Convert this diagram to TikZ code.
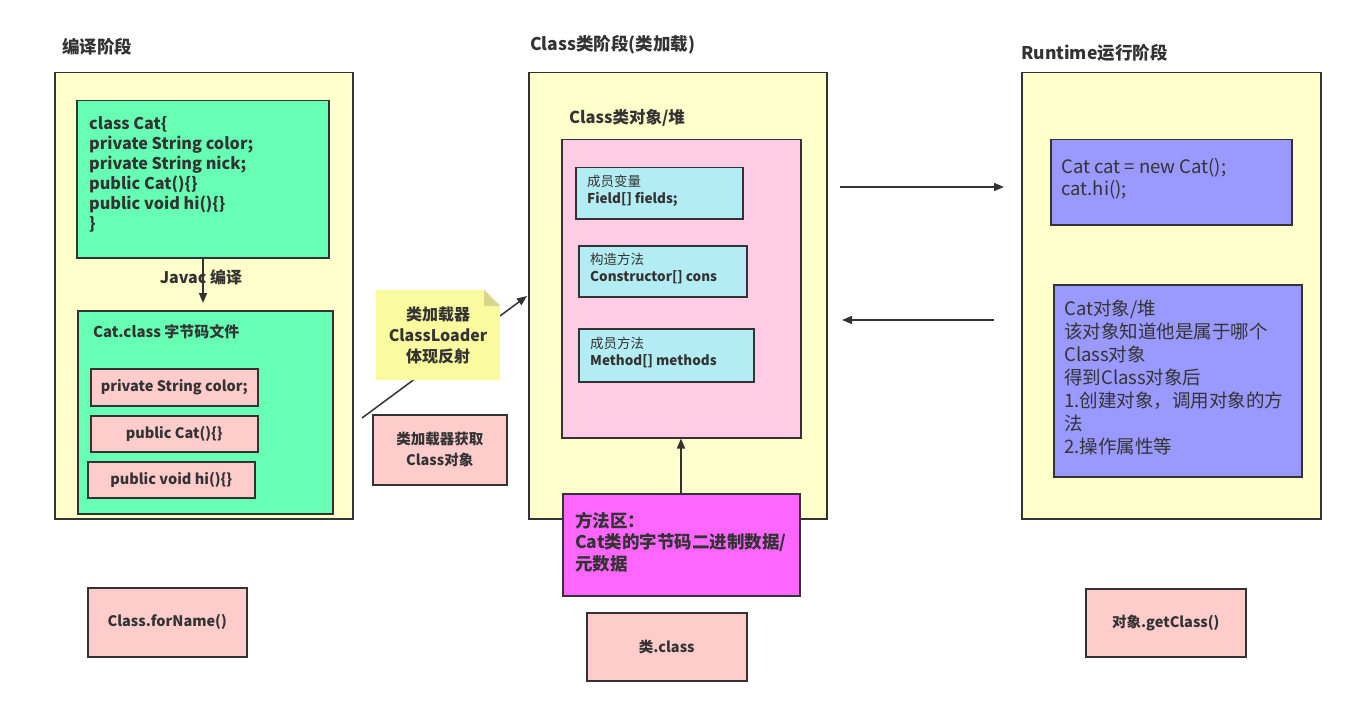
\documentclass[tikz,border=0pt]{standalone}
\usepackage{fontspec}
\setmainfont{Noto Sans CJK SC}
\usetikzlibrary{arrows.meta}
\definecolor{bgy}{HTML}{FFFFCC}
\definecolor{grn}{HTML}{66FFB3}
\definecolor{pnk}{HTML}{FFCCCC}
\definecolor{pnkb}{HTML}{FFCCE6}
\definecolor{cyn}{HTML}{B3ECF2}
\definecolor{mag}{HTML}{FF66FF}
\definecolor{prp}{HTML}{9999FF}
\definecolor{note}{HTML}{FAFA9E}
\definecolor{fold}{HTML}{D6D68C}
\definecolor{ink}{HTML}{333333}
\begin{document}
\begin{tikzpicture}[x=1pt,y=-1pt,
  box/.style={draw=ink,line width=1.5pt,inner sep=0pt,anchor=north west,text=ink},
  txt/.style={inner sep=0pt,anchor=north west,align=left,text=ink},
  ttl/.style={inner sep=0pt,anchor=west,text=ink,font=\fontsize{17.5}{20}\selectfont\bfseries},
  sm/.style={font=\fontsize{14.5}{17}\selectfont\bfseries},
  arr/.style={draw=ink,line width=1.5pt,-{Triangle[length=10pt,width=8pt]}}]
\useasboundingbox (0,0) rectangle (1350,706);
\fill[white] (0,0) rectangle (1350,706);

% titles
\node[ttl] (t1) at (62,47) {编译阶段};
\node[ttl] (t2) at (530,45) {Class类阶段(类加载)};
\node[ttl] (t3) at (1021,53) {Runtime运行阶段};

% left stage
\node[box,fill=bgy,minimum width=298pt,minimum height=446pt] (L) at (54,72) {};
\node[box,fill=grn,minimum width=252pt,minimum height=157pt] (src) at (76,100) {};
\node[txt,font=\fontsize{16.2}{20}\selectfont\bfseries] (srct) at (89,116) {class Cat\{\\private String color;\\private String nick;\\public Cat()\{\}\\public void hi()\{\}\\\}};
\node[box,fill=grn,minimum width=255pt,minimum height=203pt] (bc) at (77,310) {};
\node[txt,font=\fontsize{15}{17}\selectfont\bfseries] (bct) at (93,324) {Cat.class 字节码文件};
\node[box,fill=pnk,minimum width=167pt,minimum height=37pt,sm] (f1) at (90,368) {private String color;};
\node[box,fill=pnk,minimum width=167pt,minimum height=36pt,sm] (f2) at (90,415) {public Cat()\{\}};
\node[box,fill=pnk,minimum width=167pt,minimum height=36pt,sm] (f3) at (87,461) {public void hi()\{\}};
\node[inner sep=0pt,text=ink,font=\fontsize{16}{18}\selectfont\bfseries] (javac) at (201,277) {Javac 编译};
\draw[arr] (src.south -| 203,0) -- (203,303) coordinate (jend);

% loader line and note
\coordinate (ls) at (362,418);
\coordinate (le) at (527,296);
\draw[arr] (ls) -- (le);
\fill[note] (376,290) -- (484,290) -- (500,306) -- (500,380) -- (376,380) -- cycle;
\fill[fold] (484,290) -- (484,306) -- (500,306) -- cycle;
\node[inner sep=0pt,align=center,text=ink,font=\fontsize{16}{21}\selectfont\bfseries] (notet) at (438,335) {类加载器\\ClassLoader\\体现反射};
\node[box,fill=pnk,minimum width=134pt,minimum height=70pt,align=center,font=\fontsize{14.5}{21}\selectfont\bfseries] (getc) at (372,414) {类加载器获取\\Class对象};

% middle stage
\node[box,fill=bgy,minimum width=298pt,minimum height=446pt] (M) at (528,72) {};
\node[txt,font=\fontsize{16.5}{19}\selectfont\bfseries] (heapt) at (569,109) {Class类对象/堆};
\node[box,fill=pnkb,minimum width=239pt,minimum height=298pt] (heap) at (561,139) {};
\node[box,fill=cyn,minimum width=167pt,minimum height=51pt] (c1) at (575,167) {};
\node[txt,font=\fontsize{13.5}{17}\selectfont] (c1t) at (587,175) {成员变量\\\bfseries Field[] fields;};
\node[box,fill=cyn,minimum width=168pt,minimum height=51pt] (c2) at (578,245) {};
\node[txt,font=\fontsize{13.5}{17}\selectfont] (c2t) at (590,253) {构造方法\\\bfseries Constructor[] cons};
\node[box,fill=cyn,minimum width=175pt,minimum height=53pt] (c3) at (578,328) {};
\node[txt,font=\fontsize{13.5}{17}\selectfont] (c3t) at (590,337) {成员方法\\\bfseries Method[] methods};
\node[box,fill=mag,minimum width=237pt,minimum height=102pt] (ma) at (562,493) {};
\node[txt,font=\fontsize{17.5}{21.5}\selectfont\bfseries] (mat) at (575,512) {方法区：\\Cat类的字节码二进制数据/\\元数据};
\draw[arr] (ma.north -| 681,0) -- (heap.south -| 681,0);
\node[box,fill=pnk,minimum width=160pt,minimum height=68pt,sm] (dotc) at (586,612) {类.class};

% right stage
\node[box,fill=bgy,minimum width=299pt,minimum height=446pt] (R) at (1021,72) {};
\node[box,fill=prp,minimum width=241pt,minimum height=85pt] (p1) at (1050,139) {};
\node[txt,font=\fontsize{18.5}{22}\selectfont] (p1t) at (1061,158) {Cat cat = new Cat();\\cat.hi();};
\node[box,fill=prp,minimum width=248pt,minimum height=192pt] (p2) at (1053,284) {};
\node[txt,font=\fontsize{18.5}{23}\selectfont] (p2t) at (1064,300) {Cat对象/堆\\该对象知道他是属于哪个\\Class对象\\得到Class对象后\\1.创建对象，调用对象的方\\法\\2.操作属性等};

% arrows between stages
\coordinate (a1s) at (840,187);
\coordinate (a1e) at (1004,187);
\coordinate (a2s) at (994,320);
\coordinate (a2e) at (842,320);
\draw[arr] (a1s) -- (a1e);
\draw[arr] (a2s) -- (a2e);

% bottom boxes
\node[box,fill=pnk,minimum width=159pt,minimum height=69pt,sm] (fn) at (87,587) {Class.forName()};
\node[box,fill=pnk,minimum width=160pt,minimum height=68pt,sm] (gc) at (1085,588) {对象.getClass()};
\end{tikzpicture}
\end{document}
